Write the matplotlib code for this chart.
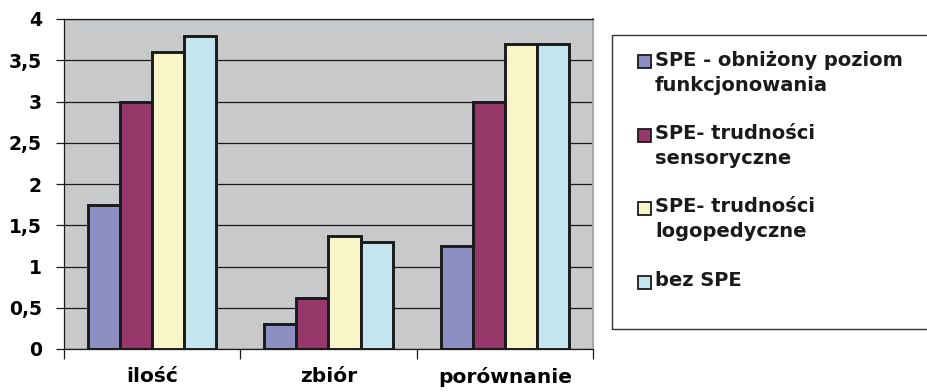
import matplotlib
matplotlib.use("Agg")
import matplotlib.pyplot as plt
import numpy as np
from matplotlib.patches import Rectangle

categories = ["ilość", "zbiór", "porównanie"]
series_names = [
    "SPE - obniżony poziom\nfunkcjonowania",
    "SPE- trudności\nsensoryczne",
    "SPE- trudności\nlogopedyczne",
    "bez SPE",
]
obnizony = [1.75, 0.30, 1.25]
sensoryczne = [3.0, 0.62, 3.0]
logopedyczne = [3.6, 1.37, 3.7]
bez_spe = [3.8, 1.30, 3.7]
y_ticks = [0, 0.5, 1, 1.5, 2, 2.5, 3, 3.5, 4]
y_labels = ["0", "0,5", "1", "1,5", "2", "2,5", "3", "3,5", "4"]

colors = ["#8C8EC4", "#96386A", "#F8F6C8", "#C2E5EE"]
values = [obnizony, sensoryczne, logopedyczne, bez_spe]

plt.rcParams["font.family"] = ["DejaVu Sans"]
plt.rcParams["font.weight"] = "bold"
EDGE = "#1A1A1A"

W, H = 927, 392
fig = plt.figure(figsize=(W / 100, H / 100), dpi=100)
ax = fig.add_axes([64 / W, 1 - 349 / H, (593 - 64) / W, (349 - 19) / H])
ax.set_facecolor("#C8C9CB")

x = np.arange(len(categories))
w = 1 / 5.5
for i, (vals, c) in enumerate(zip(values, colors)):
    ax.bar(x + (i - 1.5) * w, vals, w, color=c, edgecolor=EDGE,
           linewidth=2.1, zorder=3)

ax.set_xlim(-0.5, 2.5)
ax.set_ylim(0, 4)
ax.set_yticks(y_ticks)
ax.set_yticklabels(y_labels, fontsize=13.5, fontweight="bold")
ax.yaxis.grid(True, color=EDGE, linewidth=0.9, zorder=1)
ax.set_axisbelow(True)

ax.set_xticks([-0.5, 0.5, 1.5, 2.5])
ax.set_xticklabels([])
ax.set_xticks(x, minor=True)
ax.set_xticklabels(categories, minor=True, fontsize=14.5, fontweight="bold")
ax.tick_params(axis="x", which="minor", length=0, pad=13)
ax.tick_params(axis="x", which="major", length=7, width=0.9, color=EDGE)
ax.tick_params(axis="y", length=6, width=0.9, color=EDGE, pad=10)

for s in ["left", "bottom", "top"]:
    ax.spines[s].set_color(EDGE)
    ax.spines[s].set_linewidth(0.9)
ax.spines["right"].set_color("#A8A8AA")
ax.spines["right"].set_linewidth(1.5)

# legend: frame runs off the right edge of the figure
fig.patches.append(Rectangle((612 / W, 1 - 329 / H), 0.5, (329 - 35) / H,
                             transform=fig.transFigure, fill=False,
                             edgecolor="#333333", linewidth=1.0))
entry_y = [61.7, 135, 208, 282]
for name, c, yy in zip(series_names, colors, entry_y):
    fig.patches.append(Rectangle((638 / W, 1 - (yy + 6.5) / H), 13 / W, 13 / H,
                                 transform=fig.transFigure, facecolor=c,
                                 edgecolor=EDGE, linewidth=1.3))
    fig.text(655 / W, 1 - (yy - 11) / H, name, fontsize=14, fontweight="bold",
             va="top", ha="left", linespacing=1.4, color="#1A1A1A")

fig.savefig("out.png", dpi=100)
